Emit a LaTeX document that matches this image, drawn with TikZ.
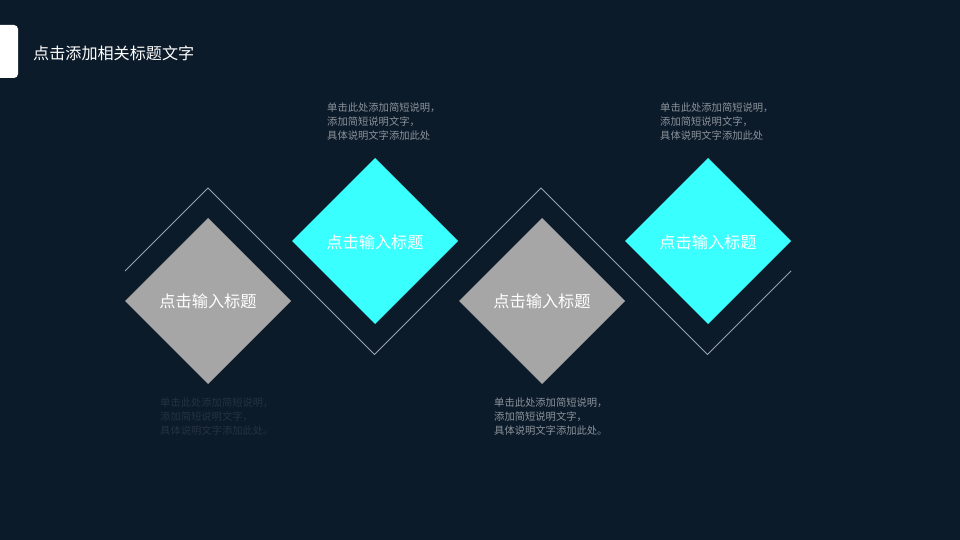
\documentclass[tikz,border=0pt]{standalone}
\usepackage{fontspec}
\setmainfont{Noto Sans CJK SC}
\definecolor{bg}{HTML}{0C1B2A}
\definecolor{cyanbox}{HTML}{3AFFFF}
\definecolor{graybox}{HTML}{A6A6A6}
\definecolor{desc}{HTML}{8C939B}
\definecolor{descdark}{HTML}{243242}
\definecolor{zig}{HTML}{9AA3AC}
\begin{document}
\begin{tikzpicture}[x=1pt,y=-1pt,
  dia/.style={diamond,minimum width=0pt,inner sep=0pt,draw=none},
  lbl/.style={text=white,font=\fontsize{16.2}{19}\selectfont,inner sep=0pt},
  desctext/.style={anchor=north west,align=left,inner sep=0pt,font=\fontsize{10.3}{13.6}\selectfont}]
\useasboundingbox (0,0) rectangle (960,540);
\fill[bg] (0,0) rectangle (960,540);
% white tab
\fill[white,rounded corners=4] (-10,25) rectangle (18,78);
\node[anchor=west,text=white,font=\fontsize{16.1}{19}\selectfont,inner sep=0pt] (title) at (33,53) {点击添加相关标题文字};
% zigzag line
\coordinate (z0) at (125,271);
\coordinate (z1) at (208,188);
\coordinate (z2) at (374.5,354.5);
\coordinate (z3) at (541,188);
\coordinate (z4) at (707.5,354.5);
\coordinate (z5) at (791,271);
\draw[zig,line width=0.8] (z0) -- (z1) -- (z2) -- (z3) -- (z4) -- (z5);
% diamonds
\fill[graybox] (125,301) -- (208,218) -- (291,301) -- (208,384) -- cycle;
\fill[cyanbox] (292,241) -- (375,158) -- (458,241) -- (375,324) -- cycle;
\fill[graybox] (459,301) -- (542,218) -- (625,301) -- (542,384) -- cycle;
\fill[cyanbox] (625,241) -- (708,158) -- (791,241) -- (708,324) -- cycle;
\node[lbl] (g1) at (208,301) {点击输入标题};
\node[lbl] (c1) at (375,242) {点击输入标题};
\node[lbl] (g2) at (542,301) {点击输入标题};
\node[lbl] (c2) at (708,242) {点击输入标题};
% descriptions
\node[desctext,text=desc] (d1) at (327,103) {单击此处添加简短说明，\\添加简短说明文字，\\具体说明文字添加此处};
\node[desctext,text=desc] (d2) at (660,103) {单击此处添加简短说明，\\添加简短说明文字，\\具体说明文字添加此处};
\node[desctext,text=descdark] (d3) at (160,398) {单击此处添加简短说明，\\添加简短说明文字，\\具体说明文字添加此处。};
\node[desctext,text=desc] (d4) at (494,398) {单击此处添加简短说明，\\添加简短说明文字，\\具体说明文字添加此处。};
\end{tikzpicture}
\end{document}
